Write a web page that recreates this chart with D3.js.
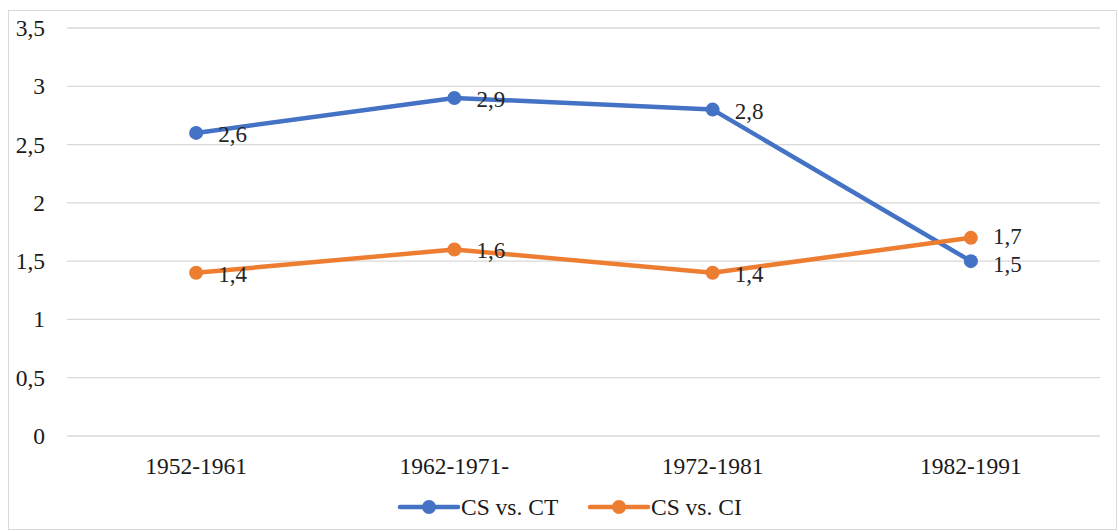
<!DOCTYPE html>
<html><head><meta charset="utf-8">
<script src="https://cdn.jsdelivr.net/npm/d3@7"></script>
<style>body{margin:0;background:#fff}svg{display:block}</style>
</head><body>
<svg id="c" width="1118" height="531"></svg>
<script>
const categories = ["1952-1961","1962-1971-","1972-1981","1982-1991"];
const seriesNames = ["CS vs. CT","CS vs. CI"];
const ctValues = [2.6, 2.9, 2.8, 1.5];
const ciValues = [1.4, 1.6, 1.4, 1.7];
const yTicks = [0,0.5,1,1.5,2,2.5,3,3.5];
const colors = ["#4472C4","#ED7D31"];

const svg = d3.select("#c");
const W=1118,H=531;
const font = "'Liberation Serif','Times New Roman',serif";
svg.append("rect").attr("x",8.5).attr("y",10.5).attr("width",W-10).attr("height",H-12)
  .attr("fill","#fff").attr("stroke","#d9d9d9").attr("stroke-width",1);

const x = d3.scaleBand().domain(categories).range([67,1100]);
const y = d3.scaleLinear().domain([0,3.5]).range([436,28]);
const fmt = v => String(v).replace(".",",");
const cx = i => x(categories[i]) + x.bandwidth()/2;

// gridlines
svg.append("g").selectAll("line").data(yTicks).join("line")
  .attr("x1",67).attr("x2",1100).attr("y1",d=>y(d)).attr("y2",d=>y(d))
  .attr("stroke","#d9d9d9").attr("stroke-width",1.3);

// y axis
const ya = svg.append("g").attr("transform","translate(67,0)")
  .call(d3.axisLeft(y).tickValues(yTicks).tickFormat(fmt).tickSize(0).tickPadding(22));
ya.select(".domain").remove();
ya.selectAll("text").attr("font-family",font).attr("font-size",23.5).attr("fill","#1a1a1a");

// x axis
const xa = svg.append("g").attr("transform","translate(0,436)")
  .call(d3.axisBottom(x).tickSize(0).tickPadding(21));
xa.select(".domain").remove();
xa.selectAll("text").attr("font-family",font).attr("font-size",23.5).attr("fill","#1a1a1a");

const data = [ctValues, ciValues];
const line = d3.line().x((d,i)=>cx(i)).y(d=>y(d));
data.forEach((vals,si)=>{
  const g = svg.append("g");
  g.append("path").datum(vals).attr("d",line).attr("fill","none")
    .attr("stroke",colors[si]).attr("stroke-width",4.5).attr("stroke-linejoin","round");
  g.selectAll("circle").data(vals).join("circle")
    .attr("cx",(d,i)=>cx(i)).attr("cy",d=>y(d)).attr("r",7)
    .attr("fill",colors[si]);
});

// data labels, with simple vertical de-collision per category
const labels = [];
data.forEach((vals,si)=>vals.forEach((v,i)=>labels.push({si,i,v,ly:y(v)+9})));
categories.forEach((c,i)=>{
  const ls = labels.filter(l=>l.i===i).sort((a,b)=>a.ly-b.ly);
  for(let k=1;k<ls.length;k++){
    const gap = ls[k].ly - ls[k-1].ly;
    if(gap < 28){ const d=(28-gap)/2; ls[k-1].ly-=d; ls[k].ly+=d; }
  }
});
svg.append("g").selectAll("text").data(labels).join("text")
  .attr("x",d=>cx(d.i)+22).attr("y",d=>d.ly)
  .attr("font-family",font).attr("font-size",23).attr("fill","#262626").text(d=>fmt(d.v));

// legend
const leg = svg.append("g");
const legX = [400, 590];
seriesNames.forEach((n,i)=>{
  const lx = legX[i], ly = 507;
  leg.append("line").attr("x1",lx).attr("x2",lx+58).attr("y1",ly).attr("y2",ly)
    .attr("stroke",colors[i]).attr("stroke-width",4.5).attr("stroke-linecap","round");
  leg.append("circle").attr("cx",lx+29).attr("cy",ly).attr("r",7).attr("fill",colors[i]);
  leg.append("text").attr("x",lx+61).attr("y",ly+8)
    .attr("font-family",font).attr("font-size",23.5).attr("fill","#1a1a1a").text(n);
});
</script>
</body></html>
